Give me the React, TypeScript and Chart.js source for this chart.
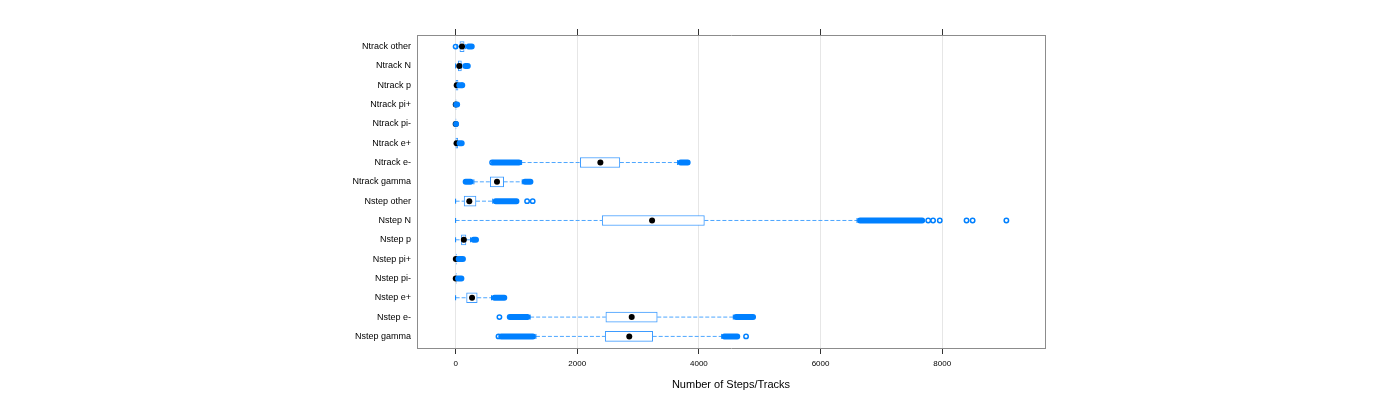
import React, { useEffect, useRef } from 'react';
import { Chart, registerables } from 'chart.js';

Chart.register(...registerables);

// Categories listed from bottom to top of the plot
const categories = [
  'Nstep gamma', 'Nstep e-', 'Nstep e+', 'Nstep pi-', 'Nstep pi+', 'Nstep p', 'Nstep N', 'Nstep other',
  'Ntrack gamma', 'Ntrack e-', 'Ntrack e+', 'Ntrack pi-', 'Ntrack pi+', 'Ntrack p', 'Ntrack N', 'Ntrack other',
];
const whiskerLow = [1320, 1225, 0, 0, 0, 0, 0, 0, 300, 1085, 0, 0, 0, 0, 0, 20];
const q1 = [2460, 2470, 180, 0, 0, 95, 2410, 140, 570, 2050, 3, 0, 0, 5, 45, 70];
const medians = [2855, 2895, 270, 2, 3, 135, 3230, 225, 680, 2380, 15, 1, 2, 18, 60, 105];
const q3 = [3240, 3315, 355, 12, 15, 170, 4090, 335, 790, 2700, 35, 3, 5, 40, 95, 140];
const whiskerHigh = [4375, 4565, 590, 30, 35, 245, 6600, 610, 1095, 3650, 55, 8, 10, 55, 100, 160];
// dense runs of overlapping outliers: [start, end]
const outlierRuns: number[][][] = [
  [[750, 1270], [4420, 4630]],
  [[890, 1180], [4610, 4890]],
  [[640, 800]],
  [[40, 95]],
  [[50, 120]],
  [[295, 335]],
  [[6650, 7670]],
  [[660, 1000]],
  [[165, 245], [1140, 1230]],
  [[630, 1040], [3700, 3815]],
  [[65, 100]],
  [[8, 20]],
  [[10, 25]],
  [[60, 95]],
  [[160, 200]],
  [[215, 265]],
];
// isolated outliers
const outlierPoints: number[][] = [
  [705, 4775],
  [720],
  [],
  [],
  [],
  [],
  [7770, 7850, 7960, 8400, 8500, 9055],
  [1175, 1267],
  [],
  [600],
  [],
  [],
  [],
  [110],
  [],
  [0],
];
const xTicks = [0, 2000, 4000, 6000, 8000];
const xMin = -635;
const xMax = 9690;
const xTitle = 'Number of Steps/Tracks';

const BLUE = '#0080ff';
const FONT = "'Liberation Sans', Arial, Helvetica, sans-serif";

export default function App() {
  const ref = useRef<HTMLCanvasElement>(null);
  useEffect(() => {
    if (!ref.current) return;
    Chart.defaults.font.family = FONT;
    const gap = { x: null, y: null };
    const medianData = medians.map((m, i) => ({ x: m, y: i + 1 }));
    const boxData = q1.map((a, i) => ({ x: [a, q3[i]], y: i + 1 }));
    const whiskerData: any[] = [];
    const stapleData: any[] = [];
    categories.forEach((_, i) => {
      const y = i + 1;
      whiskerData.push({ x: whiskerLow[i], y }, { x: q1[i], y }, gap, { x: q3[i], y }, { x: whiskerHigh[i], y }, gap);
      stapleData.push({ x: whiskerLow[i], y }, { x: whiskerHigh[i], y });
    });
    const runData: any[] = [];
    outlierRuns.forEach((runs, i) => {
      runs.forEach(([s, e]) => runData.push({ x: s, y: i + 1 }, { x: e, y: i + 1 }, gap));
    });
    const pointData: any[] = [];
    outlierPoints.forEach((pts, i) => pts.forEach((v) => pointData.push({ x: v, y: i + 1 })));

    const chart = new Chart(ref.current, {
      type: 'scatter',
      data: {
        datasets: [
          {
            type: 'scatter', data: pointData, order: 0,
            pointStyle: 'circle', pointRadius: 2.2, borderWidth: 1.5,
            borderColor: BLUE, backgroundColor: 'rgba(0,0,0,0)',
          } as any,
          {
            type: 'line', data: runData, order: 1, spanGaps: false,
            borderColor: BLUE, borderWidth: 6, borderCapStyle: 'round', pointRadius: 0,
          },
          {
            type: 'scatter', data: medianData, order: 2,
            pointRadius: 3, borderWidth: 0, backgroundColor: '#000', borderColor: '#000',
          },
          {
            type: 'scatter', data: stapleData, order: 3,
            pointStyle: 'line', rotation: 90, pointRadius: 2.5, borderWidth: 1, borderColor: BLUE,
          },
          {
            type: 'bar', data: boxData as any, order: 4, indexAxis: 'y',
            barThickness: 10, backgroundColor: '#ffffff', borderColor: '#3d9bff',
            borderWidth: 1, borderSkipped: false,
          } as any,
          {
            type: 'line', data: whiskerData, order: 5, spanGaps: false,
            borderColor: '#4da6ff', borderWidth: 1, borderDash: [4, 2], pointRadius: 0,
          },
        ],
      },
      options: {
        responsive: false,
        animation: false,
        layout: { padding: { left: 0, right: 355, top: 0, bottom: 0 } },
        plugins: { legend: { display: false }, tooltip: { enabled: false } },
        scales: {
          x: {
            type: 'linear', position: 'bottom', min: xMin, max: xMax, offset: false,
            afterBuildTicks: (s: any) => { s.ticks = xTicks.map((v) => ({ value: v })); },
            afterFit: (s: any) => { s.height = 52; },
            ticks: { font: { size: 8 }, color: '#000', padding: 5, maxRotation: 0, callback: (v: any) => String(v) },
            grid: { color: '#e6e6e6', tickColor: '#333', tickLength: 6, lineWidth: 1 },
            border: { color: '#8c8c8c', width: 1 },
            title: { display: true, text: xTitle, color: '#000', font: { size: 11 }, padding: { top: 4, bottom: 8 } },
          },
          xTop: {
            type: 'linear', position: 'top', min: xMin, max: xMax, offset: false,
            afterBuildTicks: (s: any) => { s.ticks = xTicks.map((v) => ({ value: v })); },
            afterFit: (s: any) => { s.height = 35; },
            ticks: { display: false },
            grid: { drawOnChartArea: false, tickColor: '#333', tickLength: 6 },
            border: { color: '#8c8c8c', width: 1 },
          },
          y: {
            type: 'linear', position: 'left', min: 0.4, max: 16.6, offset: false,
            afterBuildTicks: (s: any) => { s.ticks = categories.map((_, i) => ({ value: i + 1 })); },
            afterFit: (s: any) => { s.width = 417; },
            ticks: {
              font: { size: 9 }, color: '#000', padding: 6,
              callback: (v: any) => categories[Math.round(v) - 1],
            },
            grid: { drawOnChartArea: false, drawTicks: false, offset: false },
            border: { color: '#8c8c8c', width: 1 },
          },
          yRight: {
            type: 'linear', position: 'right', min: 0.4, max: 16.6, offset: false,
            afterFit: (s: any) => { s.width = 0; },
            ticks: { display: false },
            grid: { display: false, drawTicks: false },
            border: { color: '#8c8c8c', width: 1 },
          },
        },
      } as any,
    });
    return () => chart.destroy();
  }, []);
  return (
    <div style={{ position: 'absolute', left: 0, top: 0, width: 1400, height: 400, background: '#fff' }}>
      <canvas ref={ref} width={1400} height={400} />
    </div>
  );
}
